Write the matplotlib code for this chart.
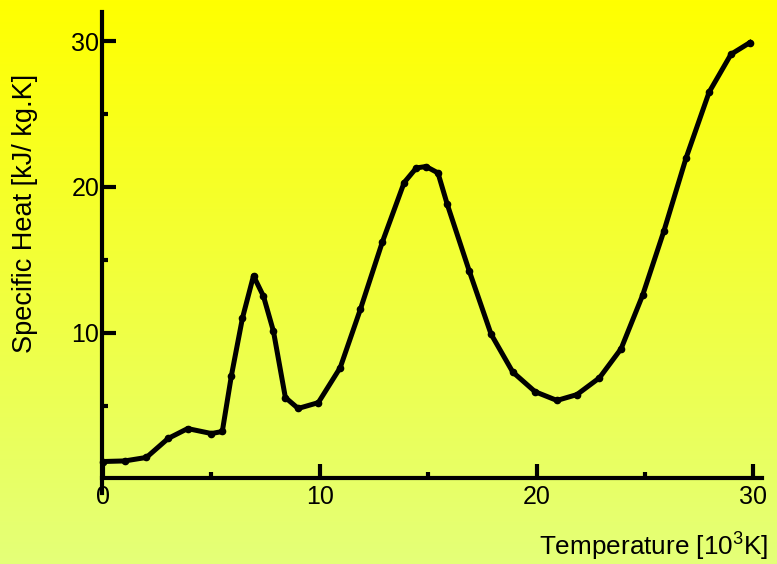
import numpy as np
import matplotlib
matplotlib.use('Agg')
import matplotlib.pyplot as plt

# readings from the chart: temperature [10^3 K] vs specific heat [kJ/kg.K]
temp = [0, 1.0, 2.0, 3.0, 3.9, 5.0, 5.5, 5.92, 6.43, 6.94, 7.4, 7.86, 8.41, 9.0,
        9.93, 10.94, 11.87, 12.88, 13.89, 14.45, 14.9, 15.45, 15.88, 16.89, 17.9,
        18.9, 19.93, 20.94, 21.86, 22.9, 23.9, 24.9, 25.88, 26.9, 27.96, 28.97, 29.84]
heat = [1.16, 1.2, 1.44, 2.74, 3.42, 3.08, 3.22, 7.05, 11.0, 13.9, 12.5, 10.1, 5.55, 4.8,
        5.2, 7.6, 11.6, 16.2, 20.3, 21.3, 21.4, 20.96, 18.8, 14.25, 9.9,
        7.3, 5.95, 5.35, 5.75, 6.9, 8.9, 12.6, 17.0, 22.0, 26.5, 29.1, 29.9]

major_x = [0, 10, 20, 30]
minor_x = [5, 15, 25]
major_y = [10, 20, 30]
minor_y = [5, 15, 25]

plt.rcParams['font.family'] = ['Liberation Sans', 'DejaVu Sans']
plt.rcParams['mathtext.default'] = 'regular'

fig = plt.figure(figsize=(7.77, 5.64), dpi=100)

# yellow gradient background
bg = fig.add_axes([0, 0, 1, 1], zorder=-1)
top = np.array([255, 255, 0]) / 255
bottom = np.array([228, 255, 120]) / 255
t = np.linspace(0, 1, 256)[:, None]
grad = (top * (1 - t) + bottom * t)[:, None, :]
bg.imshow(grad, aspect='auto', extent=[0, 1, 0, 1])
bg.axis('off')

ax = fig.add_axes([102 / 777, 71 / 564, 660 / 777, 481 / 564])
ax.set_facecolor('none')
ax.plot(temp, heat, color='black', lw=3.6, marker='o', markersize=4.5,
        solid_joinstyle='round', clip_on=False)

ax.set_xlim(-0.05, 30.4)
ax.set_ylim(-1, 32)
ax.spines['top'].set_visible(False)
ax.spines['right'].set_visible(False)
ax.spines['bottom'].set_position(('data', 0))
ax.spines['left'].set_linewidth(3)
ax.spines['bottom'].set_linewidth(3)

ax.set_xticks(major_x)
ax.set_xticks(minor_x, minor=True)
ax.set_yticks(major_y)
ax.set_yticks(minor_y, minor=True)
ax.tick_params(which='major', direction='in', length=10, width=3, labelsize=18)
ax.tick_params(which='minor', direction='in', length=4, width=3)
ax.tick_params(axis='y', which='major', pad=2)
ax.tick_params(axis='x', which='major', pad=5)

fig.text(25 / 777, 1 - 213 / 564, 'Specific Heat [kJ/ kg.K]', rotation=90,
         ha='center', va='center', fontsize=19.5)
fig.text(768 / 777, 1 - 547 / 564, 'Temperature [10$^3$K]',
         ha='right', va='center', fontsize=18.8)

fig.savefig('out.png', dpi=100)
